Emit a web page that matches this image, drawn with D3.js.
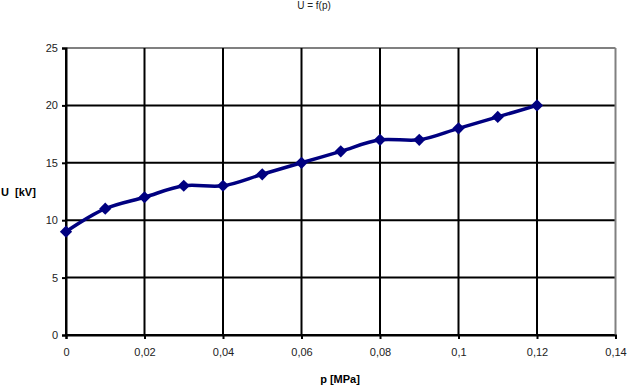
<!DOCTYPE html>
<html>
<head>
<meta charset="utf-8">
<script src="https://cdn.jsdelivr.net/npm/d3@7"></script>
<style>
  body { margin: 0; background: #fff; }
  text { font-family: "Liberation Sans", Arial, sans-serif; }
</style>
</head>
<body>
<div id="chart"></div>
<script>
var width = 629,
    height = 386;

// data
var pressure = [0, 0.01, 0.02, 0.03, 0.04, 0.05, 0.06, 0.07, 0.08, 0.09, 0.1, 0.11, 0.12];
var voltage  = [9, 11, 12, 13, 13, 14, 15, 16, 17, 17, 18, 19, 20];
var xTicks = [0, 0.02, 0.04, 0.06, 0.08, 0.1, 0.12, 0.14];
var yTicks = [0, 5, 10, 15, 20, 25];

var margin = {top: 48, right: 13.5, bottom: 51, left: 66};

var x = d3.scaleLinear()
    .domain([0, 0.14])
    .range([margin.left, width - margin.right]);

var y = d3.scaleLinear()
    .domain([0, 25])
    .range([height - margin.bottom, margin.top]);

var svg = d3.select("#chart").append("svg")
    .attr("width", width)
    .attr("height", height);

var fmt = function(d) { return String(d).replace(".", ","); };

// grid lines
svg.append("g")
  .selectAll("line")
  .data(yTicks)
  .enter().append("line")
    .attr("x1", x(0))
    .attr("x2", x(0.14))
    .attr("y1", function(d) { return y(d); })
    .attr("y2", function(d) { return y(d); })
    .attr("stroke", function(d) { return d == 25 ? "#808080" : "#000"; })
    .attr("stroke-width", 2);

svg.append("g")
  .selectAll("line")
  .data(xTicks)
  .enter().append("line")
    .attr("y1", y(0))
    .attr("y2", y(25))
    .attr("x1", function(d) { return x(d); })
    .attr("x2", function(d) { return x(d); })
    .attr("stroke", function(d) { return d == 0.14 ? "#808080" : "#000"; })
    .attr("stroke-width", 2);

// axes
var yAxis = svg.append("g")
    .attr("transform", "translate(" + x(0) + ",0)")
    .call(d3.axisLeft(y).tickValues(yTicks).tickSize(4).tickPadding(4));

var xAxis = svg.append("g")
    .attr("transform", "translate(0," + y(0) + ")")
    .call(d3.axisBottom(x).tickValues(xTicks).tickFormat(fmt).tickSize(4).tickPadding(9));

[xAxis, yAxis].forEach(function(a) {
  a.select(".domain").attr("stroke", "#000").attr("stroke-width", 2);
  a.selectAll(".tick line").attr("stroke", "#000").attr("stroke-width", 2);
  a.selectAll(".tick text").attr("font-size", 11).attr("fill", "#222");
});

// smoothed line
var line = d3.line()
    .x(function(d, i) { return x(pressure[i]); })
    .y(function(d) { return y(d); })
    .curve(d3.curveCatmullRom.alpha(0.5));

svg.append("path")
    .datum(voltage)
    .attr("d", line)
    .attr("fill", "none")
    .attr("stroke", "#000080")
    .attr("stroke-width", 3.5);

svg.append("g")
  .selectAll("path")
  .data(voltage)
  .enter().append("path")
    .attr("d", d3.symbol().type(d3.symbolDiamond2).size(95))
    .attr("transform", function(d, i) { return "translate(" + x(pressure[i]) + "," + y(d) + ")"; })
    .attr("fill", "#000080");

// titles
svg.append("text")
    .attr("x", 314)
    .attr("y", 9)
    .attr("text-anchor", "middle")
    .attr("font-size", 10)
    .attr("fill", "#222")
    .text("U = f(p)");

svg.append("text")
    .attr("x", 340)
    .attr("y", 383)
    .attr("text-anchor", "middle")
    .attr("font-size", 11)
    .attr("font-weight", "bold")
    .text("p [MPa]");

svg.append("text")
    .attr("x", 1)
    .attr("y", 196)
    .attr("font-size", 11)
    .attr("font-weight", "bold")
    .attr("xml:space", "preserve")
    .text("U  [kV]");
</script>
</body>
</html>
